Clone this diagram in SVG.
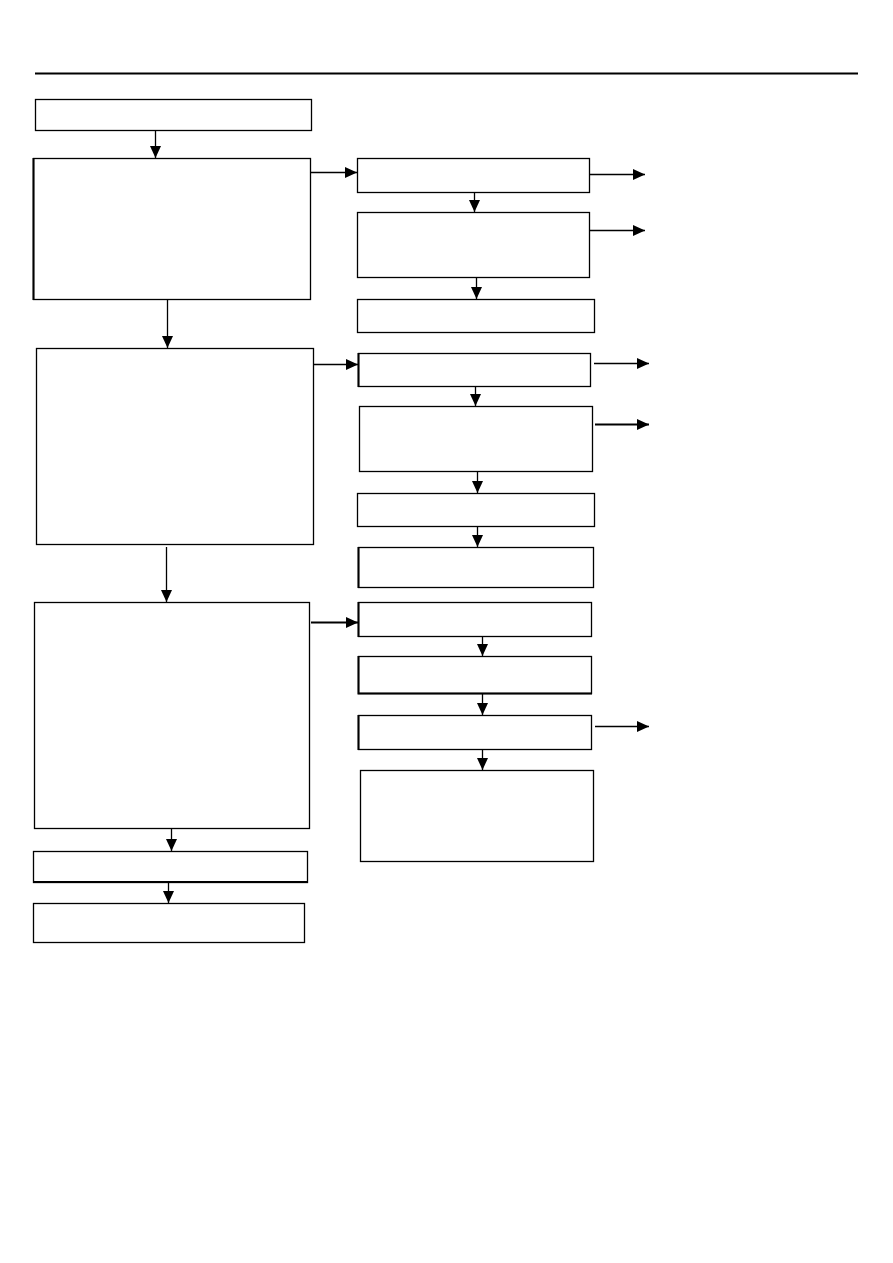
<svg xmlns="http://www.w3.org/2000/svg" width="893" height="1263" viewBox="0 0 893 1263">
<style>
.n{fill:#fff;stroke:#000;stroke-width:1.3}
.c{fill:none;stroke:#000;stroke-width:1.3}
.t{stroke-width:2}
</style>
<defs>
<marker id="ah" markerUnits="userSpaceOnUse" markerWidth="12" markerHeight="12" viewBox="0 0 12 12" refX="12" refY="6" orient="auto">
<path d="M0,0.5 L12,6 L0,11.5 Z" fill="#000"/>
</marker>
</defs>
<rect width="893" height="1263" fill="#fff"/>
<line x1="35" y1="73.5" x2="858" y2="73.5" stroke="#000" stroke-width="2"/>
<g id="nodes">
<g id="A"><rect class="n" x="35.5" y="99.5" width="276" height="31"/></g>
<g id="B"><rect class="n" x="33.5" y="158.5" width="277" height="141"/><line x1="33.5" y1="158" x2="33.5" y2="300" stroke="#000" stroke-width="2"/></g>
<g id="C"><rect class="n" x="36.5" y="348.5" width="277" height="196"/></g>
<g id="D"><rect class="n" x="34.5" y="602.5" width="275" height="226"/></g>
<g id="E"><rect class="n" x="33.5" y="851.5" width="274" height="31"/><line x1="33" y1="882" x2="308" y2="882" stroke="#000" stroke-width="2"/></g>
<g id="F"><rect class="n" x="33.5" y="903.5" width="271" height="39"/></g>
<g id="R1"><rect class="n" x="357.5" y="158.5" width="232" height="34"/></g>
<g id="R2"><rect class="n" x="357.5" y="212.5" width="232" height="65"/></g>
<g id="R3"><rect class="n" x="357.5" y="299.5" width="237" height="33"/></g>
<g id="R4"><rect class="n" x="358.5" y="353.5" width="232" height="33"/><line x1="358.5" y1="353" x2="358.5" y2="387" stroke="#000" stroke-width="2"/></g>
<g id="R5"><rect class="n" x="359.5" y="406.5" width="233" height="65"/></g>
<g id="R6"><rect class="n" x="357.5" y="493.5" width="237" height="33"/></g>
<g id="R7"><rect class="n" x="358.5" y="547.5" width="235" height="40"/><line x1="358.5" y1="547" x2="358.5" y2="588" stroke="#000" stroke-width="2"/></g>
<g id="R8"><rect class="n" x="358.5" y="602.5" width="233" height="34"/><line x1="358.5" y1="602" x2="358.5" y2="637" stroke="#000" stroke-width="2"/></g>
<g id="R9"><rect class="n" x="358.5" y="656.5" width="233" height="37"/><path d="M358.5,656 V693.5 H592" fill="none" stroke="#000" stroke-width="2"/></g>
<g id="R10"><rect class="n" x="358.5" y="715.5" width="233" height="34"/><line x1="358.5" y1="715" x2="358.5" y2="750" stroke="#000" stroke-width="2"/></g>
<g id="R11"><rect class="n" x="360.5" y="770.5" width="233" height="91"/></g>
</g>
<g id="connectors">
<line class="c" x1="155.5" y1="130" x2="155.5" y2="158" marker-end="url(#ah)"/>
<line class="c" x1="167.5" y1="300" x2="167.5" y2="348" marker-end="url(#ah)"/>
<line class="c" x1="166.5" y1="547" x2="166.5" y2="602" marker-end="url(#ah)"/>
<line class="c" x1="171.5" y1="829" x2="171.5" y2="851" marker-end="url(#ah)"/>
<line class="c" x1="168.5" y1="883" x2="168.5" y2="903" marker-end="url(#ah)"/>
<line class="c" x1="311" y1="172.5" x2="357" y2="172.5" marker-end="url(#ah)"/>
<line class="c" x1="314" y1="364.5" x2="358" y2="364.5" marker-end="url(#ah)"/>
<line class="c t" x1="311" y1="622.5" x2="358" y2="622.5" marker-end="url(#ah)"/>
<line class="c" x1="590" y1="174.5" x2="645" y2="174.5" marker-end="url(#ah)"/>
<line class="c" x1="590" y1="230.5" x2="645" y2="230.5" marker-end="url(#ah)"/>
<line class="c" x1="594" y1="363.5" x2="649" y2="363.5" stroke="#666" marker-end="url(#ah)"/>
<line class="c t" x1="595" y1="424.5" x2="649" y2="424.5" marker-end="url(#ah)"/>
<line class="c" x1="595" y1="726.5" x2="649" y2="726.5" marker-end="url(#ah)"/>
<line class="c" x1="474.5" y1="193" x2="474.5" y2="212" marker-end="url(#ah)"/>
<line class="c" x1="476.5" y1="278" x2="476.5" y2="299" marker-end="url(#ah)"/>
<line class="c" x1="475.5" y1="387" x2="475.5" y2="406" marker-end="url(#ah)"/>
<line class="c" x1="477.5" y1="472" x2="477.5" y2="493" marker-end="url(#ah)"/>
<line class="c" x1="477.5" y1="527" x2="477.5" y2="547" marker-end="url(#ah)"/>
<line class="c" x1="482.5" y1="637" x2="482.5" y2="656" marker-end="url(#ah)"/>
<line class="c" x1="482.5" y1="694" x2="482.5" y2="715" marker-end="url(#ah)"/>
<line class="c" x1="482.5" y1="750" x2="482.5" y2="770" marker-end="url(#ah)"/>
</g>
</svg>
